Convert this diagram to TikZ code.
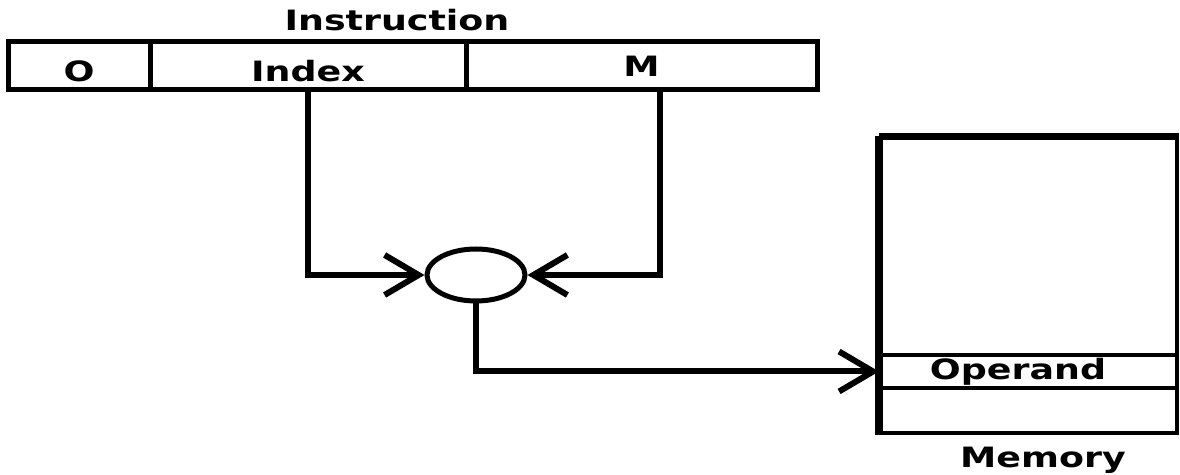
\documentclass[tikz,border=0pt]{standalone}
\usepackage{fontspec}
\newfontfamily\diagfont{DejaVu Sans}[FakeStretch=1.3]
\usetikzlibrary{arrows.meta, shapes.geometric}
\tikzset{
  txt/.style={font=\diagfont\fontsize{14pt}{16pt}\selectfont\bfseries},
  heading/.style={txt, inner sep=0pt},
  field/.style={txt, draw, line width=2.5pt, minimum height=24pt, inner sep=0pt, text depth=0pt},
  adder/.style={ellipse, draw, line width=2.5pt, minimum width=49pt, minimum height=26pt, inner sep=0pt},
  cell/.style={txt, draw, line width=2pt, minimum width=148pt, minimum height=16.5pt, inner sep=0pt},
  link/.style={line width=3pt, -{Straight Barb[length=17pt, width=20pt]}}
}
\begin{document}
\begin{tikzpicture}[x=0.5pt, y=-0.5pt]
    \useasboundingbox (0,0) rectangle (1180,475);

    % --- Instruction word ---
    \node[heading] (instr) at (397,20) {Instruction};
    \node[field, minimum width=71pt, text height=15.5pt] (fo) at (79,66) {O};
    \node[field, minimum width=158pt, text height=15.5pt] (findex) at (308,66) {Index};
    \node[field, minimum width=175.5pt, text height=10.2pt] (fm) at (641.5,66) {M};

    % --- Adder ---
    \node[adder] (add) at (476,275) {};

    % --- Memory ---
    \node[draw, line width=2pt, minimum width=148pt, minimum height=147.5pt] (mem) at (1029,285.5) {};
    \draw[line width=4pt] (mem.north west) -- (mem.south west);
    \draw[line width=3pt] (mem.north west) -- (mem.north east);
    \node[cell] (operand) at (1029,371.5) {\hspace*{-11pt}Operand};
    \node[heading] (memname) at (1043,460) {Memory};

    % --- Connections ---
    \draw[link] (findex.south) |- (add.west);
    \draw[link] ([xshift=9pt]fm.south) |- (add.east);
    \draw[link] (add.south) |- (operand.west);
\end{tikzpicture}
\end{document}
